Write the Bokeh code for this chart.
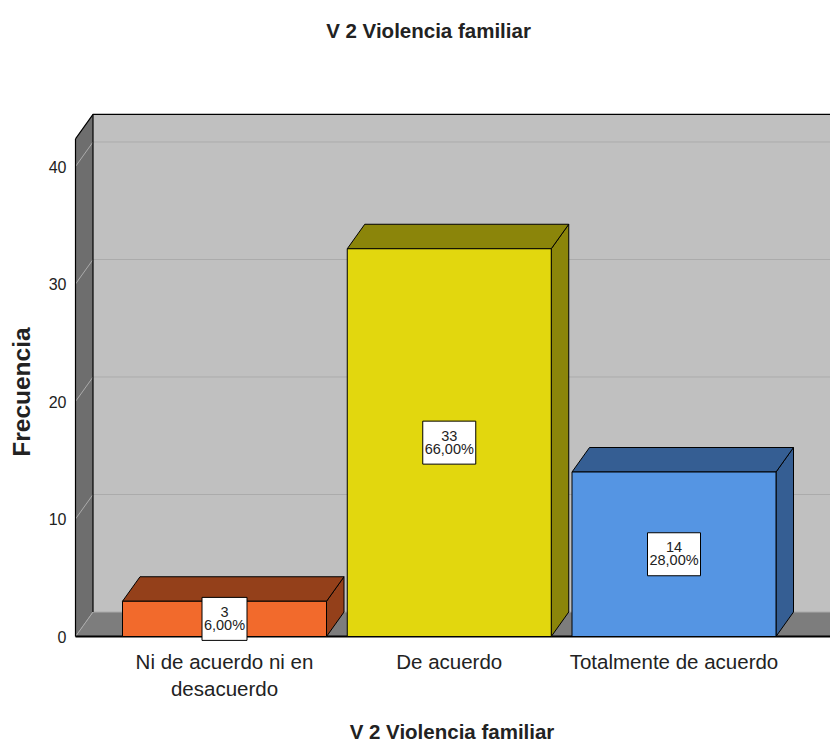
from bokeh.plotting import figure
from bokeh.models import ColumnDataSource, Range1d, FixedTicker, Label
from bokeh.core.properties import value
from bokeh.embed import file_html
from bokeh.resources import INLINE

# ---------------- data ----------------
title_text = "V 2 Violencia familiar"
x_title = "V 2 Violencia familiar"
y_title = "Frecuencia"
categories = ["Ni de acuerdo ni en\ndesacuerdo", "De acuerdo", "Totalmente de acuerdo"]
counts = [3, 33, 14]
percents = [6.0, 66.0, 28.0]
y_ticks = [0, 10, 20, 30, 40]

# ---------------- style ----------------
FRONT = ["#f26a2c", "#e2d70e", "#5595e3"]
SHADE = ["#94401a", "#8b850a", "#355e93"]
SANS = "'Liberation Sans', Arial, sans-serif"
TXT = "#222222"

W, H = 830, 747
FRAME_L, FRAME_T, FRAME_B = 73, 5, 642
PX_X = 224.75          # pixels per category step
PX_Y = 11.75           # pixels per count unit
xpos = [1, 2, 3]
HALF = 102 / PX_X      # half bar width
DX = 17.5 / PX_X       # 3D depth, x
DY = 24.5 / PX_Y       # 3D depth, y
WALL_X = 1 - 149 / PX_X
WALL_TOP = 42.35
X_START = WALL_X - 2 / PX_X
X_END = X_START + (W - FRAME_L) / PX_X
Y_START = -6 / PX_Y
Y_END = Y_START + (FRAME_B - FRAME_T) / PX_Y
FAR = X_END + 1.0

p = figure(width=W, height=H, x_range=Range1d(X_START, X_END),
           y_range=Range1d(Y_START, Y_END), output_backend="svg",
           toolbar_location=None, title=None,
           min_border_left=FRAME_L, min_border_right=0,
           min_border_top=FRAME_T, min_border_bottom=H - FRAME_B)
p.outline_line_color = None
p.grid.visible = False
p.background_fill_color = "white"
p.border_fill_color = "white"

# ---- walls ----
back = dict(xs=[[WALL_X + DX, FAR, FAR, WALL_X + DX]],
            ys=[[DY, DY, WALL_TOP + DY, WALL_TOP + DY]])
p.patches(xs="xs", ys="ys", source=ColumnDataSource(back),
          fill_color="#c0c0c0", line_color=None)
left = dict(xs=[[WALL_X, WALL_X + DX, WALL_X + DX, WALL_X]],
            ys=[[0, DY, WALL_TOP + DY, WALL_TOP]])
p.patches(xs="xs", ys="ys", source=ColumnDataSource(left),
          fill_color="#6e6e6e", line_color=None)
floor = dict(xs=[[WALL_X, FAR, FAR + DX, WALL_X + DX]],
             ys=[[0, 0, DY, DY]])
p.patches(xs="xs", ys="ys", source=ColumnDataSource(floor),
          fill_color="#7d7d7d", line_color=None)

# gridlines on left and back walls
p.multi_line(xs=[[WALL_X, WALL_X + DX, FAR] for _ in y_ticks],
             ys=[[t, t + DY, t + DY] for t in y_ticks],
             line_color="#ababab", line_width=1)

# black edges
p.multi_line(xs=[[WALL_X, WALL_X], [WALL_X, WALL_X + DX, FAR],
                 [WALL_X + DX, WALL_X + DX]],
             ys=[[0, WALL_TOP], [WALL_TOP, WALL_TOP + DY, WALL_TOP + DY],
                 [DY, WALL_TOP + DY]],
             line_color="black", line_width=1.2)
p.line(x=[WALL_X, FAR], y=[0, 0], line_color="black", line_width=2)

# ---- bars ----
bars = ColumnDataSource(dict(
    left=[c - HALF for c in xpos], right=[c + HALF for c in xpos],
    top=counts, front=FRONT))
tops = ColumnDataSource(dict(
    xs=[[c - HALF, c + HALF, c + HALF + DX, c - HALF + DX] for c in xpos],
    ys=[[v, v, v + DY, v + DY] for v in counts], shade=SHADE))
sides = ColumnDataSource(dict(
    xs=[[c + HALF, c + HALF + DX, c + HALF + DX, c + HALF] for c in xpos],
    ys=[[0, DY, v + DY, v] for v in counts], shade=SHADE))
p.patches(xs="xs", ys="ys", source=sides, fill_color="shade",
          line_color="black", line_width=1)
p.patches(xs="xs", ys="ys", source=tops, fill_color="shade",
          line_color="black", line_width=1)
p.quad(left="left", right="right", bottom=0, top="top", source=bars,
       fill_color="front", line_color="black", line_width=1)

# ---- value boxes ----
pct_txt = [f"{v:.2f}".replace(".", ",") + "%" for v in percents]
cnt_txt = [str(v) for v in counts]
mids = [v / 2 for v in counts]
boxes = ColumnDataSource(dict(x=xpos, y=mids, cnt=cnt_txt, pct=pct_txt,
                              w=[8 * len(s) + 5 for s in pct_txt]))
p.rect(x="x", y="y", width="w", height=43, width_units="screen",
       height_units="screen", source=boxes, fill_color="white",
       line_color="black", line_width=1)
p.text(x="x", y="y", text="cnt", source=boxes, y_offset=-7,
       text_align="center", text_baseline="middle",
       text_font=value(SANS), text_font_size="14.5px", text_color=TXT)
p.text(x="x", y="y", text="pct", source=boxes, y_offset=6,
       text_align="center", text_baseline="middle",
       text_font=value(SANS), text_font_size="14.5px", text_color=TXT)

# ---- title ----
p.add_layout(Label(x=1 + (428 - 224) / PX_X, y=(636 - 30) / PX_Y,
                   text=title_text, text_font=SANS, text_font_size="20.5px",
                   text_font_style="bold", text_color=TXT,
                   text_align="center", text_baseline="middle"))

# ---- axes ----
xa = p.xaxis[0]
xa.ticker = FixedTicker(ticks=xpos)
xa.major_label_overrides = {float(c): lab for c, lab in zip(xpos, categories)}
xa.axis_line_color = None
xa.major_tick_line_color = None
xa.minor_tick_line_color = None
xa.major_tick_out = 0
xa.major_label_standoff = 7
xa.major_label_text_font = SANS
xa.major_label_text_font_size = "20.5px"
xa.major_label_text_color = TXT
xa.axis_label = x_title
xa.axis_label_text_font = SANS
xa.axis_label_text_font_size = "20.5px"
xa.axis_label_text_font_style = "bold"
xa.axis_label_text_color = TXT
xa.axis_label_standoff = 17

ya = p.yaxis[0]
ya.ticker = FixedTicker(ticks=y_ticks)
ya.axis_line_color = None
ya.major_tick_line_color = None
ya.minor_tick_line_color = None
ya.major_tick_out = 0
ya.major_label_standoff = 7
ya.major_label_text_font = SANS
ya.major_label_text_font_size = "16px"
ya.major_label_text_color = TXT
# non-breaking spaces after the word move it down along the rotated axis
ya.axis_label = y_title + "\u00a0" * 20
ya.axis_label_text_font = SANS
ya.axis_label_text_font_size = "24.5px"
ya.axis_label_text_font_style = "bold"
ya.axis_label_text_color = TXT
ya.axis_label_standoff = 11

open("out.html", "w").write(file_html(p, INLINE))
